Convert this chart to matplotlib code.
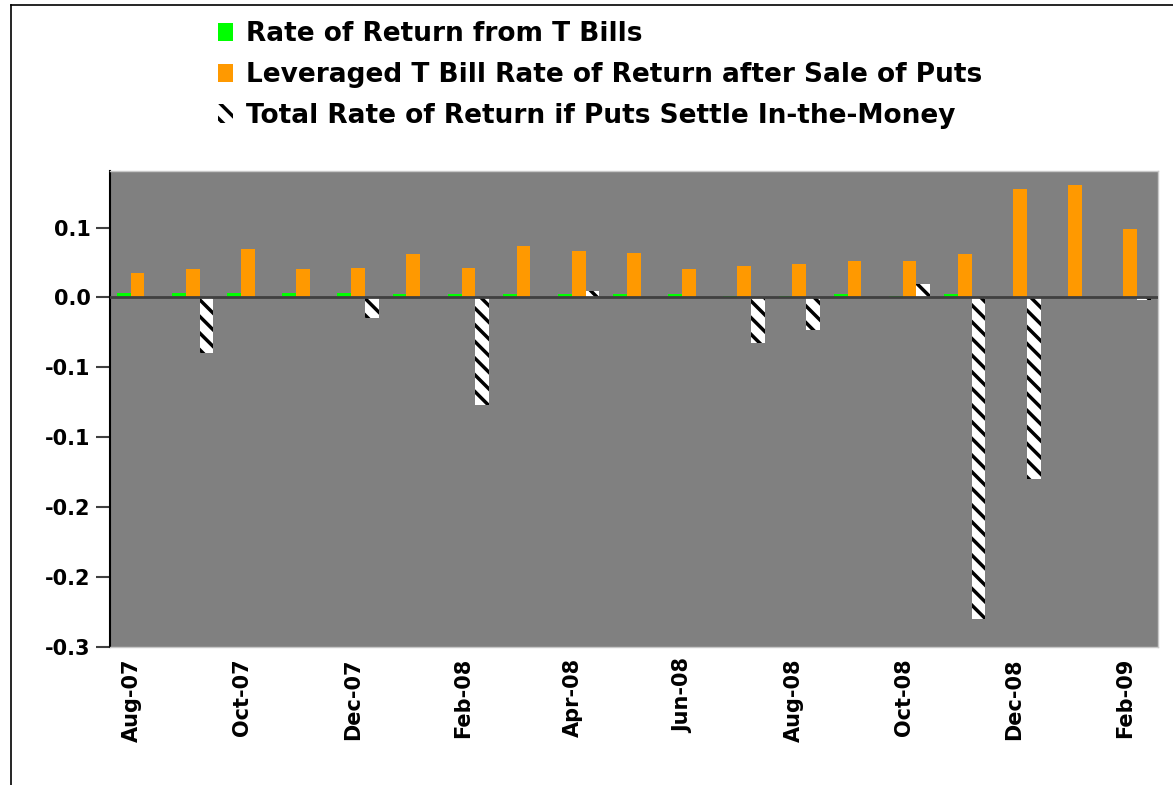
import matplotlib
matplotlib.use('Agg')
import matplotlib.pyplot as plt
from matplotlib.lines import Line2D
import numpy as np

# monthly data, Aug-07 .. Feb-09
months = ['Aug-07', 'Sep-07', 'Oct-07', 'Nov-07', 'Dec-07', 'Jan-08', 'Feb-08',
          'Mar-08', 'Apr-08', 'May-08', 'Jun-08', 'Jul-08', 'Aug-08', 'Sep-08',
          'Oct-08', 'Nov-08', 'Dec-08', 'Jan-09', 'Feb-09']
tbill = [0.0033, 0.0033, 0.0033, 0.0033, 0.0033, 0.0024, 0.0024, 0.0024, 0.0024,
         0.0024, 0.0024, 0.0012, 0.0012, 0.0024, 0.0012, 0.0024, 0.0, 0.0, 0.0]
leveraged = [0.0174, 0.0203, 0.0346, 0.0203, 0.0210, 0.0310, 0.0210, 0.0367, 0.0332,
             0.0317, 0.0203, 0.0224, 0.0238, 0.0260, 0.0260, 0.0310, 0.0776, 0.0804, 0.0489]
total = [0.0, -0.0397, 0.0, 0.0, -0.0146, 0.0, -0.0769, 0.0, 0.0045,
         0.0, 0.0, -0.0325, -0.0234, 0.0, 0.0095, -0.2297, -0.1300, 0.0, -0.0015]

ytick_vals = [0.05, 0.0, -0.05, -0.10, -0.15, -0.20, -0.25]
ytick_labels = ['0.1', '0.0', '-0.1', '-0.1', '-0.2', '-0.2', '-0.3']

labels = ['Rate of Return from T Bills',
          'Leveraged T Bill Rate of Return after Sale of Puts',
          'Total Rate of Return if Puts Settle In-the-Money']

plt.rcParams['font.family'] = 'DejaVu Sans'
plt.rcParams['font.weight'] = 'bold'
plt.rcParams['hatch.linewidth'] = 2.5

fig = plt.figure(figsize=(11.73, 7.85), dpi=100)
ax = fig.add_axes([0.0938, 0.1758, 0.8932, 0.6068])
ax.set_facecolor('#808080')

x = np.arange(len(months))
w = 0.25
b1 = ax.bar(x - w, tbill, w, color='#00ff00', linewidth=0, zorder=3)
b2 = ax.bar(x, leveraged, w, color='#ff9900', linewidth=0, zorder=3)
b3 = ax.bar(x + w, total, w, color='white', edgecolor='black', hatch='\\\\',
            linewidth=0, zorder=3)

ax.axhline(0, color='#404040', lw=2, zorder=4)

ax.set_xlim(-0.5, len(months) - 0.5)
ax.set_ylim(-0.25, 0.0907)
ax.set_yticks(ytick_vals)
ax.set_yticklabels(ytick_labels, fontsize=15, fontweight='bold')
ax.set_xticks(x[::2] - 0.1)
ax.set_xticklabels(months[::2], rotation=90, fontsize=15, fontweight='bold')
ax.tick_params(axis='x', length=0, pad=8)
ax.tick_params(axis='y', length=10, width=1.5, color='#404040', pad=4)

for s in ['top', 'right', 'bottom']:
    ax.spines[s].set_color('#c8c8c8')
    ax.spines[s].set_linewidth(1)
ax.spines['left'].set_color('black')
ax.spines['left'].set_linewidth(1.5)

fig.legend([b1, b2, b3], labels, loc='upper left', bbox_to_anchor=(0.186, 0.973),
           frameon=False, fontsize=19, handlelength=0.55, handleheight=0.7,
           handletextpad=0.5, labelspacing=0.56, borderpad=0, borderaxespad=0)

# outer chart border (left and top only visible)
fig.add_artist(Line2D([11/1173, 11/1173], [0, 1 - 5/785], color='black', lw=1.2))
fig.add_artist(Line2D([11/1173, 1], [1 - 5/785, 1 - 5/785], color='black', lw=1.2))

plt.savefig('out.png', dpi=100)
